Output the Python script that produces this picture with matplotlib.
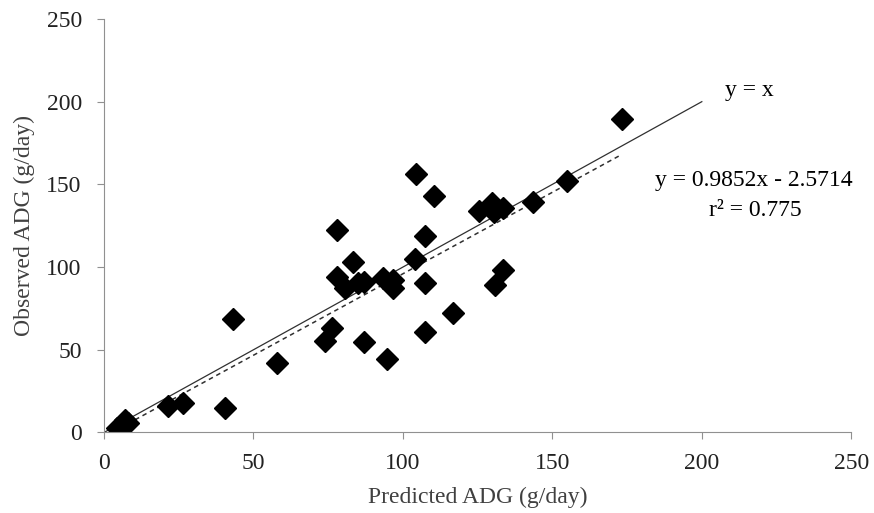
import numpy as np
import matplotlib
matplotlib.use("Agg")
from matplotlib import pyplot as plt

plt.rcParams['font.family'] = ['Liberation Serif', 'DejaVu Serif']

# predicted vs observed ADG (g/day)
predicted = [173.2, 154.8, 143.5, 125.3, 129.7, 130.5, 133.6, 133.6, 130.7, 116.9,
             110.4, 104.4, 107.3, 107.4, 107.4, 103.9, 93.5, 96.8, 96.6, 94.8,
             85.1, 87.0, 83.2, 80.7, 77.9, 78.0, 76.2, 74.0, 87.0, 57.8,
             43.3, 40.5, 26.3, 21.5, 8.1, 7.0, 4.2]
observed = [189.4, 152.2, 139.4, 133.9, 138.6, 133.5, 135.5, 98.2, 89.2, 72.0,
            143.0, 156.1, 118.8, 90.6, 60.6, 104.7, 93.2, 92.2, 87.2, 44.3,
            90.2, 91.0, 103.0, 87.2, 94.2, 122.4, 63.0, 55.5, 54.9, 41.8,
            68.6, 15.0, 17.6, 16.0, 5.9, 7.6, 2.5]

slope, intercept = 0.9852, -2.5714
fit_x = np.array([3, 173])
line_x = np.array([0, 200])

fig = plt.figure(figsize=(8.74, 5.13), dpi=100)
ax = fig.add_axes([0.119, 0.157, 0.855, 0.806])

ax.plot(line_x, line_x, color='#303030', lw=0.9)
ax.plot(fit_x, slope * fit_x + intercept, color='#303030', lw=1.1, ls=(0, (3, 2.5)))
ax.plot(predicted, observed, 'D', color='black', ms=11, ls='none')

ax.text(216, 207, 'y = x', fontsize=17, ha='center', va='center')
ax.text(217.5, 152.6, 'y = 0.9852x - 2.5714', fontsize=17, ha='center', va='center')
ax.text(218, 134.5, 'r² = 0.775', fontsize=17, ha='center', va='center')

ax.set_xlim(0, 250)
ax.set_ylim(0, 250)
ax.set_xticks(range(0, 251, 50))
ax.set_yticks(range(0, 251, 50))
ax.set_xlabel('Predicted ADG (g/day)', fontsize=17, color='#404040', labelpad=9)
ax.set_ylabel('Observed ADG (g/day)', fontsize=17, color='#404040', labelpad=8)
ax.tick_params(labelsize=17, length=5, color='#909090', direction='out', labelcolor='#222222')
ax.tick_params(axis='x', pad=10)
ax.tick_params(axis='y', pad=11)
for side in ['top', 'right']:
    ax.spines[side].set_visible(False)
for side in ['left', 'bottom']:
    ax.spines[side].set_color('#909090')

fig.savefig('out.png', dpi=100)
